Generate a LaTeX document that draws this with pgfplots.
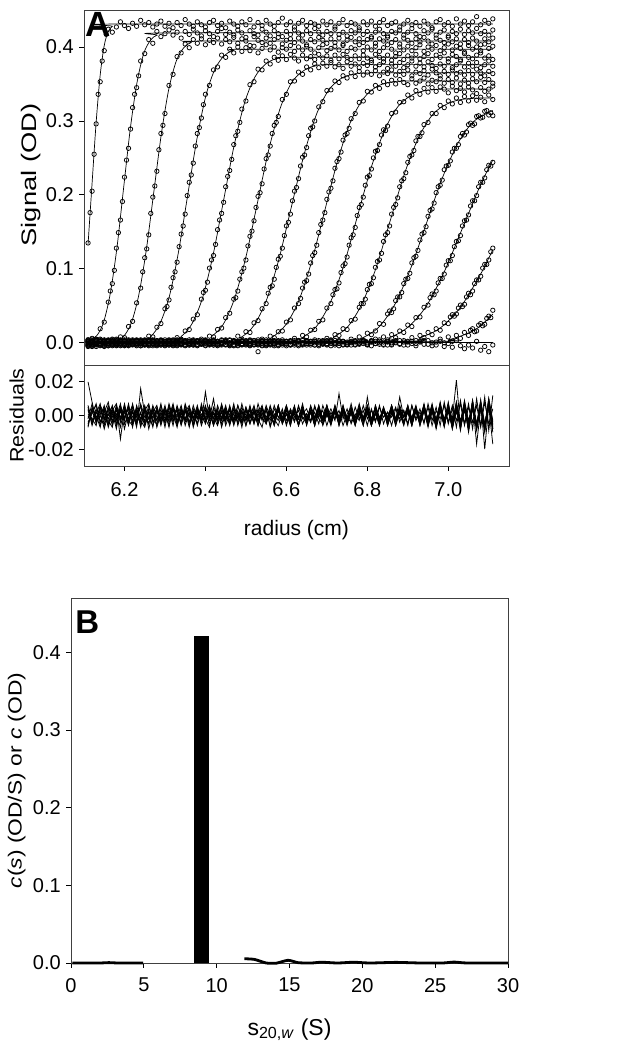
\documentclass[border=0pt]{standalone}
\usepackage{pgfplots}
\pgfplotsset{compat=1.18}
\usepackage{pgfplotstable}
\usepackage{fontspec}
\setmainfont{Liberation Sans}
\newfontfamily\labA[FakeStretch=1.3]{Liberation Sans}
\newfontfamily\labB[FakeStretch=1.2]{Liberation Sans}
\newfontfamily\labR[FakeStretch=1.1]{Liberation Sans}

% absorbance in milli-OD, radius in cm
\pgfplotstableread{
r a1 a2 a3 a4 a5 a6 a7 a8 a9 a10 a11 a12 a13 a14 a15
6.11 135 4 -3 2 -5 1 -2 4 -1 3 -4 0 2 -3 1
6.12 205 6 1 -2 3 -4 2 -1 5 -3 0 2 -5 1 -2
6.13 296 5 -2 4 -1 2 -5 3 0 -2 4 -3 1 -1 3
6.14 353 19 3 -1 2 -3 1 -4 2 5 -2 1 -1 4 -3
6.15 395 28 -1 2 -4 3 0 2 -3 1 -5 4 2 -2 0
6.16 424 55 2 -3 1 -1 4 -2 3 -4 2 -1 0 3 -4
6.17 420 80 4 1 -2 5 -3 0 -1 2 3 -4 1 -2 2
6.18 427 128 1 -4 3 -2 1 4 -3 0 -1 2 -3 5 -1
6.19 434 166 8 2 -1 0 -4 2 1 -3 4 -2 3 -1 2
6.20 429 224 7 -2 4 -3 2 -1 -4 3 0 1 -2 2 -3
6.21 425 263 22 3 -3 1 0 -3 2 -1 -2 4 1 -4 1
6.22 432 318 29 -1 2 -2 3 1 -2 4 -3 0 2 1 -2
6.23 428 345 54 1 -4 3 -1 2 0 -2 3 -3 -1 2 4
6.24 436 381 74 4 1 -1 2 -4 3 1 -2 2 -4 0 -1
6.25 430 391 115 2 -2 4 -3 1 -1 3 0 -2 3 -3 2
6.26 433 410 146 9 3 -2 1 -1 4 -3 2 1 -2 3 -4
6.27 427 405 197 8 -1 2 -4 3 -2 0 4 -1 2 -2 1
6.28 431 421 232 21 2 -3 3 -2 1 -4 -1 3 0 1 -2
6.29 435 414 283 26 -3 1 -2 4 -1 2 -3 0 3 -1 3
6.30 428 418 310 46 1 -1 2 0 -3 1 2 -4 -1 4 -2
6.31 432 423 348 58 4 2 -3 1 2 -2 -1 3 -3 0 1
6.32 426 416 363 88 1 -4 1 -2 3 0 2 -1 4 -3 -1
6.33 433 420 387 109 7 1 -1 3 -2 4 -3 1 0 2 -4
6.34 429 412 392 147 5 -2 4 -1 1 -3 0 2 -2 -1 3
6.35 437 421 404 174 16 3 -2 2 -4 1 3 -3 1 2 0
6.36 431 417 399 217 18 0 2 -3 2 -1 -2 4 -1 -3 1
6.37 428 424 410 243 32 -3 1 4 -1 2 1 -2 3 0 -3
6.38 434 419 405 283 38 2 -4 1 3 -2 -3 1 -2 3 2
6.39 430 415 411 304 59 5 0 -2 -1 3 2 -1 1 -2 -1
6.40 427 422 403 336 71 2 3 -1 2 -4 0 3 -3 1 4
6.41 433 418 409 348 101 9 -2 2 -3 1 -1 -2 2 -1 0
6.42 436 414 406 369 118 8 1 -3 4 -1 3 0 -1 2 -3
6.43 429 421 412 373 153 18 -1 1 -2 2 -4 2 1 -3 2
6.44 432 425 404 389 175 20 3 -1 0 -2 1 -3 4 0 -1
6.45 426 417 410 386 211 34 -2 4 1 -3 2 1 -2 3 1
6.46 435 420 407 397 233 40 4 -2 -3 0 -2 3 0 -1 -4
6.47 431 416 413 392 268 59 2 1 2 -4 3 -2 -3 1 3
6.48 428 423 405 400 286 70 9 -3 -1 2 0 1 2 -4 0
6.49 434 419 411 394 316 96 5 2 3 -1 -3 -1 -2 2 -2
6.50 430 413 408 399 327 112 15 0 -2 3 1 -3 1 -1 2
6.51 437 422 402 395 349 144 14 -4 1 -2 4 2 -1 3 -3
6.52 427 418 414 401 353 165 27 3 -3 1 -2 0 3 -2 1
6.53 433 416 409 392 370 198 30 1 2 -3 -1 4 -2 0 -12
6.54 429 424 406 398 369 215 46 5 -1 2 3 -3 1 -4 2
6.55 436 420 412 403 381 249 53 2 4 -1 -4 1 -3 2 -2
6.56 431 415 405 396 377 266 75 9 0 -3 2 -2 2 -1 3
6.57 428 422 410 400 386 294 86 7 -2 1 -1 3 -1 1 -4
6.58 433 418 413 393 382 306 113 15 3 -2 0 -4 2 -3 1
6.59 439 414 404 399 388 329 128 16 -1 4 -3 1 0 2 -1
6.60 430 421 409 397 383 336 158 28 2 -1 2 -2 -4 1 2
6.61 434 417 411 402 390 353 174 31 -3 2 -2 3 1 -2 -3
6.62 427 423 406 394 385 354 205 47 6 -3 1 -1 3 0 1
6.63 432 419 412 400 381 366 222 53 3 1 -4 2 -2 3 -2
6.64 436 416 408 396 389 363 251 74 10 -2 3 0 -1 -3 4
6.65 429 422 403 401 384 373 264 84 8 3 -1 -3 2 1 -1
6.66 433 418 410 397 387 369 290 108 17 -1 2 1 -3 -1 2
6.67 431 425 407 392 383 377 300 122 18 2 -3 4 0 2 -3
6.68 428 420 413 399 390 372 319 149 29 -4 1 -2 3 -2 1
6.69 435 416 409 403 385 378 326 166 31 1 -2 2 -1 3 0
6.70 430 421 405 395 388 374 341 194 47 6 3 -1 -2 -3 2
6.71 434 418 411 398 382 379 342 209 53 4 -1 3 2 1 -4
6.72 427 424 406 401 389 373 354 236 72 11 0 -3 -1 -1 3
6.73 432 417 412 396 384 376 352 249 81 10 2 1 3 -4 -1
6.74 437 420 404 402 390 371 361 274 104 19 -3 2 -2 2 1
6.75 429 415 409 394 386 380 358 283 116 18 1 -2 0 -2 -3
6.76 433 422 413 399 383 374 365 303 142 30 5 0 -3 1 2
6.77 431 419 407 397 388 377 360 310 156 32 2 3 1 -3 -2
6.78 426 423 411 403 384 372 367 325 183 48 8 -2 -1 2 0
6.79 434 417 406 395 389 378 362 327 197 53 4 1 2 -1 3
6.80 430 421 410 400 385 375 366 340 224 72 13 -3 -2 0 -2
6.81 435 414 412 396 382 379 363 339 235 80 11 2 3 -4 1
6.82 428 420 405 401 390 373 368 348 259 102 16 5 -1 2 -1
6.83 433 424 411 394 386 376 361 344 268 112 26 2 0 -2 4
6.84 437 418 408 399 384 380 366 353 288 137 25 8 -2 1 -3
6.85 429 415 413 403 389 371 364 349 293 149 39 4 2 -3 1
6.86 432 421 406 397 382 377 369 355 310 174 41 11 -3 0 -2
6.87 434 419 410 392 387 374 362 350 312 187 57 7 1 3 0
6.88 427 423 404 400 391 379 367 356 325 211 62 16 -1 -2 3
6.89 431 416 412 396 383 372 363 352 326 222 80 14 3 1 -3
6.90 436 420 409 401 388 376 369 349 335 244 87 24 1 -3 2
6.91 430 425 405 395 385 381 361 357 331 254 108 22 7 2 -1
6.92 433 418 411 399 390 374 366 351 341 273 117 34 3 -1 -4
6.93 428 414 407 403 384 378 364 354 336 279 139 35 10 2 1
6.94 435 422 413 394 387 373 368 358 344 295 149 48 7 -2 3
6.95 431 419 408 400 391 380 362 350 339 298 171 51 14 3 -2
6.96 426 424 404 397 383 375 370 355 345 310 181 66 11 -4 0
6.97 434 416 412 402 389 371 365 353 340 310 203 70 19 1 -3
6.98 437 420 409 395 386 377 361 357 346 321 213 87 17 5 2
6.99 430 423 406 399 392 374 367 351 343 318 234 93 27 0 -5
7.00 433 415 413 404 384 380 363 356 338 327 240 111 26 8 -1
7.01 428 421 407 396 390 372 369 352 347 323 258 118 38 2 -6
7.02 438 418 411 401 387 376 364 358 341 331 263 137 39 10 3
7.03 431 424 404 398 383 381 366 350 344 325 279 145 51 6 -4
7.04 435 417 410 393 391 373 362 355 339 333 281 165 52 14 -8
7.05 429 422 406 402 386 378 368 351 346 327 295 173 67 10 -3
7.06 434 419 412 397 384 374 363 357 342 334 294 192 70 19 -7
7.07 441 425 408 400 389 379 370 353 337 328 306 199 85 16 2
7.08 430 418 403 395 392 372 365 359 345 332 304 217 90 26 -10
7.09 436 421 411 404 385 376 361 352 340 326 313 223 106 25 -5
7.10 432 416 407 398 388 381 367 356 343 335 308 240 112 36 -12
7.11 438 423 412 401 383 374 364 351 347 329 307 244 128 44 -3
}\obs

% readings between the 0.01 cm rows, on the boundaries
\pgfplotstableread{
r v
6.115 176
6.125 255
6.135 336
6.145 381
6.155 417
6.165 70
6.175 98
6.185 149
6.195 191
6.205 247
6.215 289
6.225 336
6.235 361
6.245 96
6.255 127
6.265 175
6.275 212
6.285 261
6.295 294
6.305 49
6.315 75
6.325 96
6.335 130
6.345 158
6.355 199
6.365 227
6.375 266
6.385 291
6.395 322
6.395 68
6.405 82
6.415 112
6.425 133
6.435 166
6.445 190
6.455 225
6.465 248
6.475 280
6.485 298
6.475 61
6.485 86
6.495 101
6.505 131
6.515 151
6.525 183
6.535 203
6.545 235
6.555 254
6.565 283
6.575 298
6.555 67
6.565 77
6.575 102
6.585 117
6.595 145
6.605 163
6.615 192
6.625 210
6.635 239
6.645 254
6.655 280
6.665 292
6.635 60
6.645 82
6.655 93
6.665 118
6.675 132
6.685 160
6.695 176
6.705 204
6.715 219
6.725 245
6.735 258
6.745 281
6.755 290
6.715 65
6.725 73
6.735 95
6.745 107
6.755 132
6.765 146
6.775 172
6.785 187
6.795 213
6.805 226
6.815 250
6.825 260
6.835 281
6.845 287
6.785 53
6.795 59
6.805 79
6.815 88
6.825 110
6.835 121
6.845 146
6.855 158
6.865 183
6.875 196
6.885 219
6.895 230
6.905 252
6.915 260
6.925 279
6.935 284
6.855 43
6.865 46
6.875 62
6.885 68
6.895 86
6.905 94
6.915 115
6.925 125
6.935 147
6.945 157
6.955 179
6.965 189
6.975 211
6.985 220
6.995 239
7.005 246
7.015 263
7.025 268
7.035 283
7.045 285
7.055 297
7.065 296
7.075 307
7.085 305
7.095 314
7.105 311
6.955 61
6.965 65
6.975 81
6.985 87
6.995 105
7.005 111
7.015 130
7.025 138
7.035 158
7.045 166
7.055 185
7.065 192
7.075 211
7.085 217
7.095 234
7.105 239
7.005 35
7.015 36
7.025 47
7.035 49
7.045 62
7.055 65
7.065 80
7.075 85
7.085 101
7.095 106
7.105 123
7.055 17
7.065 15
7.075 24
7.085 23
7.095 33
7.105 34
}\extra

% residuals in milli-OD
\pgfplotstableread{
r e1 e2 e3 e4 e5 e6 e7 e8 e9 e10 e11 e12
6.11 20 -5 3 -7 6 -2 4 -4 1 -6 5 -1
6.12 8 2 -4 5 -3 7 -6 1 -2 4 -5 3
6.13 -3 6 1 -2 4 -5 2 7 -6 0 3 -4
6.14 5 -4 7 1 -6 3 -1 -3 5 -7 2 6
6.15 -2 3 -6 4 2 -1 6 -5 -3 5 -8 1
6.16 4 -7 2 -5 8 0 -3 4 6 -2 1 -6
6.17 -6 1 5 3 -4 6 -7 2 -1 3 -3 5
6.18 3 -2 -5 7 1 -6 5 -8 4 -1 6 -3
6.19 -1 5 3 -3 -7 4 -2 6 -4 7 -14 2
6.20 6 -3 -1 2 5 -8 3 -2 7 -5 4 -1
6.21 -4 7 4 -6 -2 2 -5 5 -3 1 -2 6
6.22 2 -5 -7 5 3 -3 7 -1 -6 6 3 -4
6.23 -7 1 6 -1 -5 5 -4 3 2 -3 -6 4
6.24 16 -4 -2 6 2 -7 1 -6 5 -2 7 -3
6.25 1 6 3 -4 -6 3 -3 4 -5 5 -1 -7
6.26 -5 -2 7 2 4 -5 6 -2 -1 -8 3 2
6.27 4 3 -4 -7 1 6 -2 5 -6 2 -3 -1
6.28 -3 -6 2 5 -3 -1 4 -7 3 6 -5 4
6.29 6 2 -3 -2 7 -4 -6 1 -2 -4 4 -5
6.30 -2 -4 5 4 -5 2 3 -3 6 1 -7 3
6.31 3 7 -1 -6 2 -7 -1 6 -4 -3 5 -2
6.32 -6 -1 4 3 -4 5 7 -2 1 4 -3 6
6.33 5 3 -6 -1 6 -3 -4 4 -7 2 1 -5
6.34 -1 -5 2 6 -2 4 1 -6 5 -5 -4 3
6.35 4 2 -3 -4 3 -6 -2 3 -3 7 6 -2
6.36 -4 6 5 1 -7 2 5 -4 2 -1 -6 4
6.37 2 -3 -2 -5 4 -1 -7 6 -5 3 2 -6
6.38 -5 4 6 3 -1 5 2 -2 4 -6 -2 1
6.39 7 -6 -4 -2 5 -4 -3 1 -1 4 5 -3
6.40 -2 1 3 5 -3 14 -1 -5 6 -2 -4 5
6.41 3 5 -5 -6 2 -2 6 4 -3 -7 1 -1
6.42 -6 -2 1 4 -6 10 -4 -1 2 5 -5 2
6.43 1 4 -3 -1 3 -5 3 -6 -2 1 6 -4
6.44 -3 -7 7 2 -2 3 -5 2 5 -3 -1 6
6.45 5 2 -2 -4 6 -1 2 -3 -6 4 3 -2
6.46 -1 -4 4 6 -5 4 -6 5 1 -5 -3 3
6.47 4 6 -6 -3 1 -3 4 -2 -4 2 7 -5
6.48 -5 -1 2 1 -4 6 -2 3 6 -1 -6 1
6.49 2 3 -4 -5 7 -2 5 -7 -1 3 2 -3
6.50 -3 -6 5 3 -2 1 -3 4 3 -6 -1 5
6.51 6 1 -1 -2 3 -5 1 -1 -5 5 4 -4
6.52 -4 5 3 4 -5 3 -4 6 2 -2 -5 2
6.53 1 -3 -6 -1 4 -4 7 -3 -2 1 3 -6
6.54 -2 4 2 5 -3 5 -1 1 -7 6 -2 4
6.55 3 -5 -3 -4 6 -2 -5 -4 4 -4 5 -1
6.56 -6 2 6 2 -1 1 3 5 -3 2 -7 3
6.57 4 -1 -2 -6 -4 -6 -2 -2 6 -5 1 -2
6.58 -1 6 4 3 5 3 6 -6 -1 3 -3 6
6.59 2 -4 -5 -3 -2 -3 -4 2 -4 -1 4 -5
6.60 -5 3 1 6 3 4 1 -3 5 6 -6 1
6.61 3 -2 -4 -2 -6 -1 -6 4 -2 -3 2 -3
6.62 -3 5 3 1 4 6 4 -1 1 2 -4 4
6.63 6 -6 -1 -5 -2 -5 -2 3 -6 -6 5 -2
6.64 -2 1 5 4 7 2 5 -5 3 4 -1 5
6.65 1 4 -6 -1 -4 -3 -3 1 -3 -2 -5 -4
6.66 -4 -3 2 3 2 5 2 -4 6 5 3 2
6.67 5 2 -3 -6 -5 -2 -6 6 -1 -4 -2 -6
6.68 -1 -5 6 5 1 3 3 -2 4 1 6 3
6.69 3 6 -2 -3 -3 -6 -1 -5 -5 -3 -3 -1
6.70 -6 -1 4 2 6 1 6 3 2 6 1 4
6.71 2 4 -5 -4 -2 -4 -4 -1 -3 -2 -6 -5
6.72 -3 -2 3 6 4 4 2 5 6 3 4 2
6.73 13 3 -4 -1 -6 -2 -5 -6 -2 -5 -1 -3
6.74 -2 -6 5 3 3 6 3 2 1 4 5 6
6.75 4 1 -2 -5 -1 -3 -2 -3 -6 -1 -4 -4
6.76 -5 5 2 4 5 2 7 4 3 -4 2 1
6.77 1 -3 -6 -2 -4 -5 -3 -5 -1 5 -5 -6
6.78 -3 2 4 7 2 3 1 2 5 -2 6 3
6.79 6 -4 -1 -3 -6 -1 -6 -2 -4 3 -2 -2
6.80 -2 6 3 1 11 5 4 6 2 -6 3 5
6.81 3 -2 -5 -6 -3 -6 -2 -4 -5 4 -6 -4
6.82 -4 4 6 2 5 2 5 1 6 -3 1 2
6.83 5 -6 -2 -4 -1 -3 -4 -6 -2 6 -3 -5
6.84 -1 3 2 5 3 4 3 3 4 -5 5 4
6.85 2 -1 -4 -2 -5 -4 -6 -2 -6 2 -4 -1
6.86 -6 5 5 3 6 6 2 5 1 -1 4 6
6.87 4 -4 -3 -6 -2 -2 -3 -3 -3 5 -6 -3
6.88 -2 2 11 4 4 3 6 2 5 -4 2 1
6.89 3 -5 -1 -1 -4 -5 -1 -5 -4 3 -1 -6
6.90 -5 6 4 6 2 2 4 4 2 -6 5 4
6.91 6 -3 -6 -3 -6 -4 -5 -1 -6 6 -5 -2
6.92 -3 4 3 2 5 5 3 6 4 -2 3 5
6.93 2 -6 -2 -5 -3 -6 -4 -4 -1 4 -4 -4
6.94 -4 3 6 4 7 3 6 3 6 -5 6 3
6.95 5 -2 -4 -2 -5 -2 -6 -6 -3 7 -2 -7
6.96 -6 7 2 6 3 6 2 5 5 -3 4 5
6.97 3 -5 -7 -4 -7 -5 -3 -2 -8 5 -7 -3
6.98 -2 4 5 3 6 8 7 7 3 -6 6 7
6.99 6 -7 -3 -6 -2 -4 -6 -5 -6 8 -3 -6
7.00 -5 6 8 5 4 2 5 3 7 -4 5 4
7.01 4 -4 -6 -7 -8 -6 -2 -7 -4 6 -8 -5
7.02 -3 8 4 2 6 7 21 6 5 -7 3 8
7.03 7 -8 -5 -5 -4 -3 -7 -4 -9 9 -6 -7
7.04 -6 5 9 6 7 5 4 8 6 -5 7 3
7.05 5 -6 -4 -8 -5 -9 -8 -3 -7 7 -10 -6
7.06 -4 9 6 4 8 4 7 6 9 -8 5 8
7.07 6 -7 -8 -6 -6 -7 -5 -9 -5 10 -7 -17
7.08 -7 6 5 8 4 9 6 5 8 -6 9 4
7.09 8 -9 -6 -5 -9 -5 -10 -7 -8 11 -20 -7
7.10 -5 7 10 6 7 6 8 10 5 -9 6 9
7.11 4 -8 -3 -7 -10 -8 -5 -6 -17 12 -8 -4
}\resid

\pgfplotsset{
  panel/.style={
    scale only axis,
    axis line style={black!75, line width=0.9pt},
    tick style={black, line width=0.8pt},
    major tick length=4.7pt,
    tick align=outside,
    xtick pos=left, ytick pos=left,
    tick label style={font=\fontsize{20}{24}\selectfont},
    yticklabel style={xshift=-2pt},
    xlabel style={font=\fontsize{21}{25}\selectfont},
  },
  pts/.style={only marks, mark=o, mark size=2.2pt, mark options={line width=0.75pt, black}},
  fit/.style={black, line width=0.7pt, smooth, tension=0.5},
  res/.style={black, line width=0.8pt},
}

\begin{document}
\begin{tikzpicture}
\path[use as bounding box] (0,0) rectangle (624pt,1050pt);

% panel A: scans
\begin{axis}[panel, at={(84pt,685pt)}, anchor=south west,
  width=425pt, height=355pt,
  xmin=6.10, xmax=7.15, ymin=-30, ymax=450,
  xtick=\empty,
  ytick={0,100,200,300,400}, yticklabels={0.0,0.1,0.2,0.3,0.4},
  ylabel={Signal (OD)},
  ylabel style={font=\labA\fontsize{21}{25}\selectfont,
    at={(axis description cs:-0.124,0.535)}, anchor=center},
]
\pgfplotsinvokeforeach{1,...,15}{\addplot[pts] table[x=r, y=a#1]{\obs};}
\addplot[pts] table[x=r, y=v]{\extra};
\addplot[fit] coordinates {(6.11,133)(6.12,216)(6.13,298)(6.14,362)(6.15,402)(6.16,421)(6.17,428)(6.18,431)(7.11,431)};
\addplot[fit] coordinates {(6.11,2)(6.132,10)(6.1485,28)(6.165,67)(6.1815,129)(6.198,210)(6.2145,290)(6.231,352)(6.2475,391)(6.264,409)(6.2805,416)(6.31,419)(7.11,419)};
\addplot[fit] coordinates {(6.11,0)(6.18,2)(6.1985,9)(6.217,27)(6.2355,65)(6.254,126)(6.2725,204)(6.291,282)(6.3095,343)(6.328,381)(6.3465,399)(6.365,406)(6.40,408)(7.11,408)};
\addplot[fit] coordinates {(6.11,0)(6.2435,2)(6.266,9)(6.2885,27)(6.311,63)(6.3335,123)(6.356,199)(6.3785,274)(6.401,334)(6.4235,370)(6.446,388)(6.4685,395)(6.51,397)(7.11,397)};
\addplot[fit] coordinates {(6.11,0)(6.315,2)(6.341,9)(6.367,26)(6.393,61)(6.419,119)(6.445,193)(6.471,267)(6.497,325)(6.523,360)(6.549,377)(6.575,384)(6.62,386)(7.11,386)};
\addplot[fit] coordinates {(6.11,0)(6.388,2)(6.416,9)(6.444,25)(6.472,60)(6.5,116)(6.528,188)(6.556,260)(6.584,316)(6.612,351)(6.64,367)(6.668,374)(6.71,376)(7.11,376)};
\addplot[fit] coordinates {(6.11,0)(6.4595,2)(6.49,8)(6.5205,24)(6.551,58)(6.5815,113)(6.612,183)(6.6425,252)(6.673,307)(6.7035,341)(6.734,357)(6.7645,363)(6.81,365)(7.11,365)};
\addplot[fit] coordinates {(6.11,0)(6.534,2)(6.566,8)(6.598,24)(6.63,56)(6.662,109)(6.694,177)(6.726,245)(6.758,298)(6.79,330)(6.822,346)(6.854,352)(6.90,354)(7.11,354)};
\addplot[fit] coordinates {(6.11,0)(6.6085,2)(6.642,8)(6.6755,23)(6.709,55)(6.7425,106)(6.776,172)(6.8095,237)(6.843,288)(6.8765,320)(6.91,335)(6.9435,341)(6.99,343)(7.11,343)};
\addplot[fit] coordinates {(6.11,0)(6.682,2)(6.717,8)(6.752,22)(6.787,53)(6.822,102)(6.857,166)(6.892,229)(6.927,278)(6.962,309)(6.997,323)(7.032,329)(7.08,331)(7.11,331)};
\addplot[fit] coordinates {(6.11,0)(6.75,2)(6.789,7)(6.828,21)(6.867,51)(6.906,99)(6.945,160)(6.984,221)(7.023,269)(7.062,299)(7.11,314)};
\addplot[fit] coordinates {(6.11,0)(6.81,2)(6.855,7)(6.9,21)(6.945,49)(6.99,96)(7.035,155)(7.08,214)(7.11,247)};
\addplot[fit] coordinates {(6.11,0)(6.88,2)(6.93,7)(6.98,20)(7.03,48)(7.08,93)(7.11,126)};
\addplot[fit] coordinates {(6.11,0)(6.96,2)(7.0,4)(7.04,11)(7.07,19)(7.09,28)(7.11,39)};
\addplot[fit] coordinates {(6.11,0)(7.11,0)};
\node[anchor=north west, inner sep=0pt, font=\fontsize{35}{35}\selectfont\bfseries]
  at (rel axis cs:0,1) [xshift=1.5pt, yshift=-2pt] {A};
\end{axis}

% residuals
\begin{axis}[panel, at={(84pt,584pt)}, anchor=south west,
  width=425pt, height=101pt,
  xmin=6.10, xmax=7.15, ymin=-30, ymax=30,
  xtick={6.2,6.4,6.6,6.8,7.0}, xticklabels={6.2,6.4,6.6,6.8,7.0},
  ytick={-20,0,20}, yticklabels={-0.02,0.00,0.02},
  xticklabel style={yshift=-8.6pt},
  xlabel={radius (cm)}, ylabel={Residuals},
  xlabel style={at={(axis description cs:0.5,-0.634)}, anchor=center},
  ylabel style={font=\labR\fontsize{19.5}{23}\selectfont,
    at={(axis description cs:-0.1586,0.5)}, anchor=center},
]
\pgfplotsinvokeforeach{1,...,12}{\addplot[res] table[x=r, y=e#1]{\resid};}
\end{axis}

% panel B: c(s) distribution
\begin{axis}[panel, at={(71pt,87pt)}, anchor=south west,
  width=437pt, height=365pt, clip=false,
  xmin=0, xmax=30, ymin=0, ymax=0.47,
  xtick={0,5,10,15,20,25,30}, xticklabels={0,5,10,15,20,25,30},
  ytick={0,0.1,0.2,0.3,0.4}, yticklabels={0.0,0.1,0.2,0.3,0.4},
  xticklabel style={yshift=-7pt},
  xlabel={s\textsubscript{20,\textit{w}} (S)},
  ylabel={\textit{c}(\textit{s}) (OD/S) or \textit{c} (OD)},
  xlabel style={font=\fontsize{23}{27}\selectfont,
    at={(axis description cs:0.5,-0.183)}, anchor=center},
  ylabel style={font=\labB\fontsize{19}{23}\selectfont,
    at={(axis description cs:-0.124,0.5)}, anchor=center},
]
\addplot[ybar, bar width=1.03, bar shift=0pt, fill=black, draw=none] coordinates {(8.97,0.421)};
\addplot[black, line width=2.8pt] coordinates {(0.1,0) (1,0) (2,0) (2.6,0.0005) (3.2,0) (4,0) (4.95,0)};
\addplot[black, line width=2.8pt, smooth, tension=0.4] coordinates {
  (11.9,0.0055) (12.6,0.0046) (13.4,0.0) (14.1,-0.0002) (14.9,0.0035) (15.6,0.0004)
  (16.5,0) (17.2,0.001) (18.3,0) (19.4,0.001) (20.5,0) (22.3,0.0008) (24,0)
  (25.5,0) (26.3,0.0012) (27.2,0) (30,0)};
\node[anchor=north west, inner sep=0pt, font=\fontsize{33}{33}\selectfont\bfseries]
  at (rel axis cs:0,1) [xshift=4.3pt, yshift=-12.3pt] {B};
\end{axis}
\end{tikzpicture}
\end{document}
